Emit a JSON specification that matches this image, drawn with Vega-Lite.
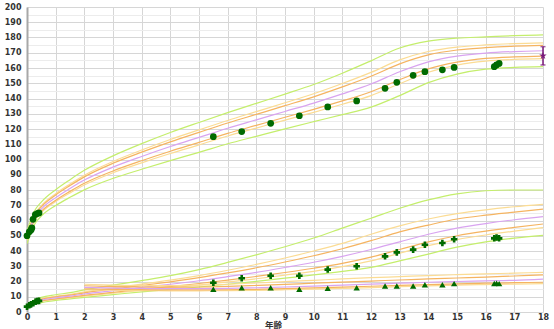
{
"$schema": "https://vega.github.io/schema/vega-lite/v6.json",
"width": 516, "height": 305,
"autosize": {"type": "none"},
"padding": {"left": 27, "top": 7, "right": 11, "bottom": 17},
"background": "white",
"config": {"view": {"stroke": null}},
"datasets": {
"curves": [
{"t":"H","a":0,"n2":44.8,"n1":46.9,"nq":47.6,"m":49.0,"pq":50.4,"p1":51.1,"p2":53.2},
{"t":"H","a":0.25,"n2":57.1,"n1":59.3,"nq":60.0,"m":61.5,"pq":63.0,"p1":63.7,"p2":65.9},
{"t":"H","a":0.5,"n2":62.9,"n1":65.2,"nq":66.0,"m":67.5,"pq":69.0,"p1":69.8,"p2":72.1},
{"t":"H","a":1,"n2":69.8,"n1":72.4,"nq":73.3,"m":75.0,"pq":76.7,"p1":77.6,"p2":80.2},
{"t":"H","a":1.5,"n2":75.2,"n1":78.1,"nq":79.1,"m":81.0,"pq":82.9,"p1":83.9,"p2":86.8},
{"t":"H","a":2,"n2":80.1,"n1":83.3,"nq":84.4,"m":86.5,"pq":88.6,"p1":89.7,"p2":92.9},
{"t":"H","a":3,"n2":87.6,"n1":91.3,"nq":92.5,"m":95.0,"pq":97.5,"p1":98.7,"p2":102.4},
{"t":"H","a":4,"n2":93.6,"n1":97.8,"nq":99.2,"m":102.0,"pq":104.8,"p1":106.2,"p2":110.4},
{"t":"H","a":5,"n2":99.3,"n1":103.9,"nq":105.4,"m":108.5,"pq":111.6,"p1":113.1,"p2":117.7},
{"t":"H","a":6,"n2":104.7,"n1":109.6,"nq":111.2,"m":114.5,"pq":117.8,"p1":119.4,"p2":124.3},
{"t":"H","a":7,"n2":110.3,"n1":115.4,"nq":117.1,"m":120.5,"pq":123.9,"p1":125.6,"p2":130.7},
{"t":"H","a":8,"n2":115.2,"n1":120.6,"nq":122.4,"m":126.0,"pq":129.6,"p1":131.4,"p2":136.8},
{"t":"H","a":9,"n2":120.1,"n1":125.8,"nq":127.7,"m":131.5,"pq":135.3,"p1":137.2,"p2":142.9},
{"t":"H","a":10,"n2":124.8,"n1":130.9,"nq":132.9,"m":137.0,"pq":141.1,"p1":143.1,"p2":149.2},
{"t":"H","a":11,"n2":129.4,"n1":136.2,"nq":138.4,"m":143.0,"pq":147.6,"p1":149.8,"p2":156.6},
{"t":"H","a":12,"n2":134.3,"n1":141.9,"nq":144.4,"m":149.5,"pq":154.6,"p1":157.1,"p2":164.7},
{"t":"H","a":13,"n2":141.9,"n1":149.7,"nq":152.3,"m":157.5,"pq":162.7,"p1":165.3,"p2":173.1},
{"t":"H","a":14,"n2":150.4,"n1":157.2,"nq":159.4,"m":164.0,"pq":168.6,"p1":170.8,"p2":177.6},
{"t":"H","a":15,"n2":156.0,"n1":161.9,"nq":163.8,"m":167.8,"pq":171.8,"p1":173.7,"p2":179.6},
{"t":"H","a":16,"n2":159.2,"n1":164.5,"nq":166.3,"m":169.8,"pq":173.3,"p1":175.1,"p2":180.4},
{"t":"H","a":17,"n2":160.4,"n1":165.6,"nq":167.3,"m":170.8,"pq":174.3,"p1":176.0,"p2":181.2},
{"t":"H","a":18,"n2":160.9,"n1":166.1,"nq":167.8,"m":171.3,"pq":174.8,"p1":176.5,"p2":181.7},
{"t":"W","a":0,"n2":2.3,"n1":2.6,"nq":2.8,"m":3.0,"pq":3.3,"p1":3.5,"p2":4.0},
{"t":"W","a":0.25,"n2":4.9,"n1":5.5,"nq":5.8,"m":6.3,"pq":6.8,"p1":7.1,"p2":7.9},
{"t":"W","a":0.5,"n2":6.2,"n1":6.9,"nq":7.2,"m":7.8,"pq":8.3,"p1":8.7,"p2":9.6},
{"t":"W","a":1,"n2":7.6,"n1":8.3,"nq":8.6,"m":9.3,"pq":9.9,"p1":10.3,"p2":11.3},
{"t":"W","a":1.5,"n2":8.6,"n1":9.3,"nq":9.7,"m":10.4,"pq":11.1,"p1":11.6,"p2":12.7},
{"t":"W","a":2,"n2":9.6,"n1":10.4,"nq":10.9,"m":11.8,"pq":12.6,"p1":13.2,"p2":14.5},
{"t":"W","a":3,"n2":11.4,"n1":12.3,"nq":12.9,"m":14.0,"pq":15.1,"p1":15.8,"p2":17.6},
{"t":"W","a":4,"n2":13.2,"n1":14.1,"nq":14.8,"m":16.1,"pq":17.4,"p1":18.3,"p2":20.6},
{"t":"W","a":5,"n2":14.8,"n1":15.9,"nq":16.7,"m":18.2,"pq":19.8,"p1":20.9,"p2":23.8},
{"t":"W","a":6,"n2":16.4,"n1":17.7,"nq":18.7,"m":20.5,"pq":22.5,"p1":23.9,"p2":27.8},
{"t":"W","a":7,"n2":18.2,"n1":19.7,"nq":20.9,"m":23.2,"pq":25.6,"p1":27.4,"p2":32.5},
{"t":"W","a":8,"n2":20.1,"n1":21.8,"nq":23.3,"m":26.0,"pq":29.0,"p1":31.2,"p2":37.5},
{"t":"W","a":9,"n2":22.2,"n1":24.2,"nq":25.9,"m":29.2,"pq":32.8,"p1":35.4,"p2":42.8},
{"t":"W","a":10,"n2":24.3,"n1":26.7,"nq":28.7,"m":32.6,"pq":36.9,"p1":40.0,"p2":48.5},
{"t":"W","a":11,"n2":26.6,"n1":29.7,"nq":31.9,"m":36.5,"pq":41.5,"p1":45.0,"p2":55.0},
{"t":"W","a":12,"n2":29.3,"n1":33.5,"nq":36.0,"m":41.0,"pq":46.8,"p1":51.0,"p2":61.5},
{"t":"W","a":13,"n2":33.5,"n1":38.5,"nq":41.0,"m":46.0,"pq":52.5,"p1":56.5,"p2":68.0},
{"t":"W","a":14,"n2":38.0,"n1":43.5,"nq":46.0,"m":51.0,"pq":57.0,"p1":61.0,"p2":73.5},
{"t":"W","a":15,"n2":42.5,"n1":47.5,"nq":50.0,"m":55.0,"pq":61.0,"p1":64.5,"p2":77.5},
{"t":"W","a":16,"n2":46.0,"n1":50.5,"nq":53.0,"m":58.0,"pq":63.5,"p1":67.0,"p2":79.5},
{"t":"W","a":17,"n2":48.5,"n1":53.0,"nq":55.5,"m":60.5,"pq":65.5,"p1":69.0,"p2":80.0},
{"t":"W","a":18,"n2":50.3,"n1":55.3,"nq":57.7,"m":62.5,"pq":67.5,"p1":70.6,"p2":80.0},
{"t":"B","a":2,"n1":14.5,"nq":15.2,"m":16.1,"pq":17.2,"p1":18.2},
{"t":"B","a":3,"n1":14.3,"nq":14.9,"m":15.7,"pq":16.7,"p1":17.6},
{"t":"B","a":4,"n1":14.0,"nq":14.6,"m":15.4,"pq":16.4,"p1":17.3},
{"t":"B","a":5,"n1":13.9,"nq":14.5,"m":15.3,"pq":16.3,"p1":17.3},
{"t":"B","a":6,"n1":13.9,"nq":14.5,"m":15.3,"pq":16.4,"p1":17.6},
{"t":"B","a":7,"n1":14.0,"nq":14.6,"m":15.5,"pq":16.8,"p1":18.2},
{"t":"B","a":8,"n1":14.2,"nq":14.9,"m":15.9,"pq":17.4,"p1":19.0},
{"t":"B","a":9,"n1":14.6,"nq":15.3,"m":16.4,"pq":18.1,"p1":19.9},
{"t":"B","a":10,"n1":15.0,"nq":15.8,"m":17.0,"pq":18.9,"p1":20.8},
{"t":"B","a":11,"n1":15.5,"nq":16.3,"m":17.6,"pq":19.6,"p1":21.7},
{"t":"B","a":12,"n1":16.0,"nq":16.9,"m":18.3,"pq":20.3,"p1":22.5},
{"t":"B","a":13,"n1":16.6,"nq":17.5,"m":18.9,"pq":21.0,"p1":23.2},
{"t":"B","a":14,"n1":17.1,"nq":18.0,"m":19.5,"pq":21.7,"p1":23.9},
{"t":"B","a":15,"n1":17.6,"nq":18.5,"m":20.0,"pq":22.3,"p1":24.5},
{"t":"B","a":16,"n1":18.0,"nq":18.9,"m":20.4,"pq":22.9,"p1":25.0},
{"t":"B","a":17,"n1":18.3,"nq":19.2,"m":20.8,"pq":23.6,"p1":25.5},
{"t":"B","a":18,"n1":18.6,"nq":19.5,"m":21.6,"pq":24.3,"p1":26.0}
],
"points": [
{"t":"H","a":0,"v":50.0},{"t":"H","a":0.08,"v":52.6},{"t":"H","a":0.14,"v":53.8},{"t":"H","a":0.17,"v":55.1},{"t":"H","a":0.21,"v":60.8},{"t":"H","a":0.29,"v":63.9},{"t":"H","a":0.36,"v":64.6},{"t":"H","a":0.42,"v":65.0},
{"t":"H","a":6.5,"v":115.0},{"t":"H","a":7.49,"v":118.3},{"t":"H","a":8.5,"v":123.7},{"t":"H","a":9.5,"v":128.7},{"t":"H","a":10.49,"v":134.5},{"t":"H","a":11.5,"v":138.4},{"t":"H","a":12.49,"v":146.7},{"t":"H","a":12.9,"v":150.6},{"t":"H","a":13.47,"v":155.2},{"t":"H","a":13.88,"v":157.6},{"t":"H","a":14.49,"v":158.8},{"t":"H","a":14.9,"v":160.4},{"t":"H","a":16.3,"v":160.9},{"t":"H","a":16.38,"v":162.0},{"t":"H","a":16.47,"v":163.0},
{"t":"W","a":0,"v":3.5},{"t":"W","a":0.08,"v":4.4},{"t":"W","a":0.14,"v":5.0},{"t":"W","a":0.22,"v":5.7},{"t":"W","a":0.3,"v":6.8},{"t":"W","a":0.36,"v":7.2},{"t":"W","a":0.42,"v":7.3},
{"t":"W","a":6.5,"v":19.2},{"t":"W","a":7.49,"v":22.1},{"t":"W","a":8.5,"v":23.8},{"t":"W","a":9.5,"v":23.8},{"t":"W","a":10.49,"v":27.8},{"t":"W","a":11.5,"v":30.0},{"t":"W","a":12.49,"v":36.5},{"t":"W","a":12.9,"v":39.1},{"t":"W","a":13.47,"v":40.9},{"t":"W","a":13.88,"v":44.1},{"t":"W","a":14.49,"v":45.2},{"t":"W","a":14.9,"v":47.7},{"t":"W","a":16.3,"v":48.3},{"t":"W","a":16.38,"v":48.9},{"t":"W","a":16.47,"v":48.3},
{"t":"B","a":6.5,"v":14.9},{"t":"B","a":7.49,"v":15.9},{"t":"B","a":8.5,"v":15.9},{"t":"B","a":9.5,"v":14.9},{"t":"B","a":10.49,"v":15.5},{"t":"B","a":11.5,"v":15.9},{"t":"B","a":12.49,"v":17.0},{"t":"B","a":12.9,"v":17.1},{"t":"B","a":13.47,"v":17.0},{"t":"B","a":13.88,"v":17.9},{"t":"B","a":14.49,"v":17.9},{"t":"B","a":14.9,"v":18.6},{"t":"B","a":16.3,"v":18.7},{"t":"B","a":16.38,"v":18.8},{"t":"B","a":16.47,"v":18.6}
],
"adultbar": [{"a":18,"v":162.0,"hi":174.0}],
"adultcaps": [{"a":18,"v":162.0},{"a":18,"v":174.0}],
"adultstar": [{"a":18,"v":168.0}]
},
"encoding": {
"x": {"field": "a", "type": "quantitative", "scale": {"domain": [0, 18], "nice": false, "zero": false},
 "axis": {"title": "年齢", "format": "d", "values": [0,0.5,1,1.5,2,2.5,3,3.5,4,4.5,5,5.5,6,6.5,7,7.5,8,8.5,9,9.5,10,10.5,11,11.5,12,12.5,13,13.5,14,14.5,15,15.5,16,16.5,17,17.5,18],
  "labelExpr": "datum.value % 1 === 0 ? datum.label : ''",
  "grid": true, "gridColor": {"condition": {"test": "datum.value % 1 === 0", "value": "#d6d6d6"}, "value": "#ececec"},
  "ticks": false, "domain": false, "labelFont": "DejaVu Sans", "labelFontSize": 8, "labelFontWeight": "bold", "labelColor": "#333",
  "labelPadding": 1, "labelFlush": false, "labelOverlap": false,
  "titleFont": "Noto Sans CJK JP", "titleFontSize": 8.5, "titleFontWeight": "bold", "titleColor": "#333", "titleX": 246, "titleY": 12, "titleBaseline": "middle"}},
"y": {"field": "v", "type": "quantitative", "scale": {"domain": [0, 200], "nice": false},
 "axis": {"title": null, "format": "d", "values": [0,5,10,15,20,25,30,35,40,45,50,55,60,65,70,75,80,85,90,95,100,105,110,115,120,125,130,135,140,145,150,155,160,165,170,175,180,185,190,195,200],
  "labelExpr": "datum.value % 10 === 0 ? datum.label : ''",
  "grid": true, "gridColor": {"condition": {"test": "datum.value % 10 === 0", "value": "#d6d6d6"}, "value": "#ececec"},
  "ticks": false, "domain": true, "domainColor": "#a8a8a8", "domainWidth": 2,
  "labelFont": "DejaVu Sans", "labelFontSize": 8, "labelFontWeight": "bold", "labelColor": "#333", "labelPadding": 6, "labelOverlap": false}}
},
"layer": [
{
"data": {"name": "curves"},
"transform": [
{"fold": ["n2","p2","n1","p1","nq","pq","m"], "as": ["k","v"]},
{"filter": "isValid(datum.v)"}
],
"mark": {"type": "line", "strokeWidth": 1.2, "clip": true, "interpolate": "monotone"},
"encoding": {
"color": {"field": "k", "type": "nominal", "legend": null,
 "scale": {"domain": ["n2","p2","n1","p1","nq","pq","m"], "range": ["#c4ee6c","#c4ee6c","#fbdc94","#fbdc94","#f5b461","#f5b461","#d9a4f0"]}},
"detail": [{"field": "t"}, {"field": "k"}]
}
},
{
"data": {"name": "points"},
"mark": {"type": "point", "filled": true, "opacity": 1, "color": "#006a00"},
"encoding": {
"shape": {"field": "t", "type": "nominal", "legend": null, "scale": {"domain": ["H","W","B"], "range": ["circle","cross","triangle-up"]}},
"size": {"field": "t", "type": "nominal", "legend": null, "scale": {"domain": ["H","W","B"], "range": [45, 40, 26]}}
}
},
{
"data": {"name": "adultbar"},
"mark": {"type": "rule", "color": "#7a1a7a", "strokeWidth": 1.5},
"encoding": {"y2": {"field": "hi"}}
},
{
"data": {"name": "adultcaps"},
"mark": {"type": "tick", "color": "#7a1a7a", "orient": "horizontal", "size": 5, "thickness": 1.5},
"encoding": {}
},
{
"data": {"name": "adultstar"},
"mark": {"type": "point", "filled": true, "color": "#7a1a7a", "opacity": 1, "size": 60,
 "shape": "M0,-1L0.24,-0.31L0.95,-0.31L0.38,0.12L0.59,0.81L0,0.38L-0.59,0.81L-0.38,0.12L-0.95,-0.31L-0.24,-0.31Z"},
"encoding": {}
}
]
}
